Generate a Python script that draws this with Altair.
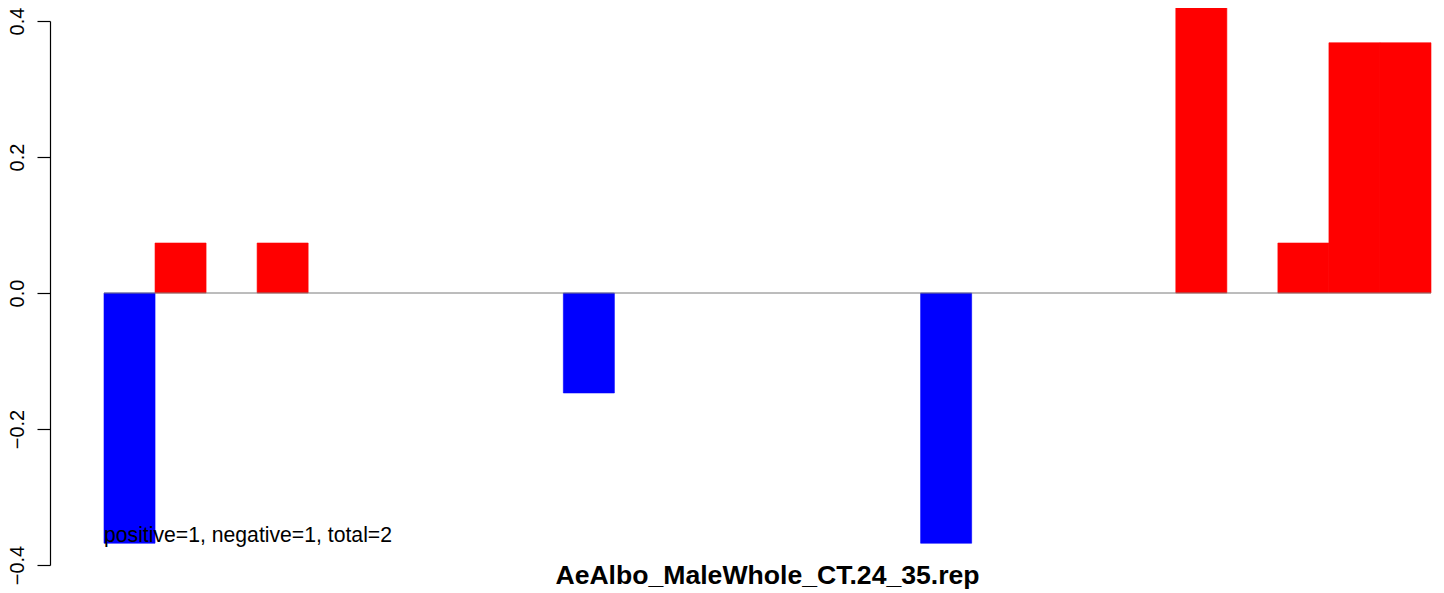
import altair as alt
import pandas as pd

# Data
values = [-0.368, 0.0735, 0.0, 0.0735, 0.0, 0.0, 0.0, 0.0, 0.0, -0.147,
          0.0, 0.0, 0.0, 0.0, 0.0, 0.0, -0.368, 0.0, 0.0, 0.0,
          0.0, 0.441, 0.0, 0.0735, 0.368, 0.368]
positions = list(range(1, len(values) + 1))
y_ticks = [-0.4, -0.2, 0.0, 0.2, 0.4]
title_text = "AeAlbo_MaleWhole_CT.24_35.rep"
note_text = "positive=1, negative=1, total=2"

df = pd.DataFrame({
    "pos": positions,
    "value": values,
    "sign": ["neg" if v < 0 else "pos" for v in values],
})

FONT = "Liberation Sans"
W, H = 1327, 544

x_enc = alt.X("pos:O", scale=alt.Scale(paddingInner=0, paddingOuter=0), axis=None)
y_scale = alt.Scale(domain=[-0.4, 0.4], nice=False, zero=False)
col_scale = alt.Scale(domain=["neg", "pos"], range=["#0000FF", "#FF0000"])

# Invisible full layer keeps all 26 band positions
base = alt.Chart(df).mark_bar(opacity=0).encode(
    x=x_enc,
    y=alt.Y("value:Q", scale=y_scale,
            axis=alt.Axis(values=y_ticks, format=".1f", offset=54, tickSize=13,
                          tickColor="black", domainColor="black", tickWidth=1.2, domainWidth=1.2,
                          labelAngle=270, labelAlign="center", labelBaseline="bottom",
                          labelPadding=10, labelFont=FONT, labelFontSize=20, labelColor="black",
                          grid=False, title=None)),
    y2=alt.datum(0),
)

bars = alt.Chart(df).transform_filter("datum.value != 0").mark_bar(clip=False, strokeWidth=0.6).encode(
    x=x_enc,
    y=alt.Y("value:Q", scale=y_scale),
    y2=alt.datum(0),
    color=alt.Color("sign:N", scale=col_scale, legend=None),
    stroke=alt.Color("sign:N", scale=col_scale, legend=None),
)

zero_line = alt.Chart(pd.DataFrame({"y": [0.0]})).mark_rule(color="#7a7a7a", strokeWidth=1).encode(
    y=alt.Y("y:Q", scale=y_scale),
    x=alt.value(0), x2=alt.value(W),
)

note = alt.Chart(pd.DataFrame({"t": [note_text], "y": [-0.3655]})).mark_text(
    align="left", baseline="alphabetic", font=FONT, fontSize=21.2, color="black"
).encode(
    x=alt.value(0), y=alt.Y("y:Q", scale=y_scale), text="t:N"
)

title = alt.Chart(pd.DataFrame({"t": [title_text]})).mark_text(
    align="center", baseline="alphabetic", font=FONT, fontSize=26.6, fontWeight="bold", color="black"
).encode(
    x=alt.value(W / 2), y=alt.value(H + 19), text="t:N"
)

chart = alt.layer(base, bars, zero_line, note, title).properties(
    width=W, height=H,
    background="white",
    autosize=alt.AutoSizeParams(type="none"),
    padding={"left": 96, "top": 13, "right": 5, "bottom": 24},
).configure_view(strokeWidth=0)

chart.save("out.html", embed_options={"renderer": "svg", "actions": False})
